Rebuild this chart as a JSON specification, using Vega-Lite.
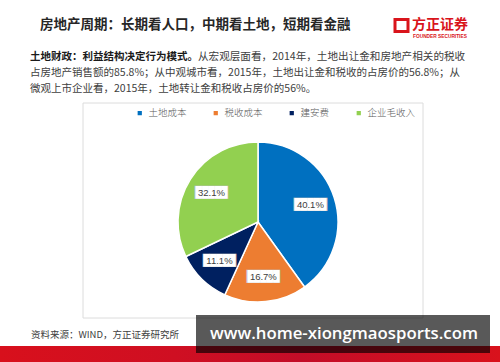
{
  "$schema": "https://vega.github.io/schema/vega-lite/v6.json",
  "width": 500,
  "height": 362,
  "autosize": "none",
  "padding": 0,
  "background": "white",
  "config": {"view": {"stroke": null}, "font": "Noto Sans CJK SC"},
  "datasets": {
    "pie": [
      {"cat": "土地成本", "share": 0.401, "rank": 1},
      {"cat": "税收成本", "share": 0.167, "rank": 2},
      {"cat": "建安费", "share": 0.111, "rank": 3},
      {"cat": "企业毛收入", "share": 0.321, "rank": 4}
    ]
  },
  "data": {"values": [{}]},
  "layer": [
    {"mark": {"type": "rect", "x": 83, "y": 103, "x2": 423, "y2": 318, "fill": "white", "stroke": "#dcdcdc", "strokeWidth": 1}, "encoding": {}},
    {
      "data": {"name": "pie"},
      "mark": {"type": "arc", "x": 258, "y": 222, "outerRadius": 80, "stroke": "white", "strokeWidth": 1.5},
      "encoding": {
        "theta": {"field": "share", "type": "quantitative", "stack": true},
        "order": {"field": "rank", "type": "quantitative"},
        "color": {
          "field": "cat", "type": "nominal",
          "scale": {"domain": ["土地成本", "税收成本", "建安费", "企业毛收入"], "range": ["#0070C0", "#ED7D31", "#002060", "#92D050"]},
          "legend": {
            "orient": "none", "legendX": 135, "legendY": 108, "direction": "horizontal", "title": null,
            "symbolType": "square", "symbolSize": 18, "symbolStrokeWidth": 0,
            "labelFontSize": 9.5, "labelColor": "#595959", "labelFont": "Noto Sans CJK SC", "labelFontWeight": 300,
            "columnPadding": 24, "labelOffset": 4, "padding": 0
          }
        }
      }
    },
    {
      "data": {"name": "pie"},
      "mark": {"type": "text", "x": 258, "y": 222, "radius": 55, "text": "█████", "font": "DejaVu Sans Mono", "fontSize": 11.2, "color": "#bfbfbf", "baseline": "middle", "align": "center"},
      "encoding": {
        "theta": {"field": "share", "type": "quantitative", "stack": true},
        "order": {"field": "rank", "type": "quantitative"}
      }
    },
    {
      "data": {"name": "pie"},
      "mark": {"type": "text", "x": 258, "y": 222, "radius": 55, "text": "█████", "font": "DejaVu Sans Mono", "fontSize": 10.6, "color": "white", "baseline": "middle", "align": "center"},
      "encoding": {
        "theta": {"field": "share", "type": "quantitative", "stack": true},
        "order": {"field": "rank", "type": "quantitative"}
      }
    },
    {
      "data": {"name": "pie"},
      "mark": {"type": "text", "x": 258, "y": 222, "radius": 55, "font": "Liberation Sans", "fontSize": 9.5, "color": "#404040", "baseline": "middle", "align": "center"},
      "encoding": {
        "theta": {"field": "share", "type": "quantitative", "stack": true},
        "order": {"field": "rank", "type": "quantitative"},
        "text": {"field": "share", "type": "quantitative", "format": ".1%"}
      }
    },
    {"mark": {"type": "text", "x": 40, "y": 25, "text": "房地产周期：长期看人口，中期看土地，短期看金融", "fontSize": 13.5, "fontWeight": "bold", "color": "#262626", "align": "left", "baseline": "middle"}, "encoding": {}},
    {"mark": {"type": "rect", "x": 395, "y": 19.5, "x2": 408, "y2": 31.5, "fill": null, "stroke": "#d9141b", "strokeWidth": 3}, "encoding": {}},
    {"mark": {"type": "text", "x": 412, "y": 25, "text": "方正证券", "fontSize": 14, "fontWeight": "bold", "color": "#d9141b", "align": "left", "baseline": "middle"}, "encoding": {}},
    {"mark": {"type": "text", "x": 413, "y": 37, "text": "FOUNDER SECURITIES", "font": "Liberation Sans", "fontSize": 4.8, "fontWeight": "bold", "color": "#d9141b", "align": "left", "baseline": "middle"}, "encoding": {}},
    {"mark": {"type": "text", "x": 30, "y": 57, "text": "土地财政：利益结构决定行为模式。", "fontSize": 10.5, "fontWeight": "bold", "color": "#1a1a1a", "align": "left", "baseline": "middle"}, "encoding": {}},
    {"mark": {"type": "text", "x": 198, "y": 57, "text": "从宏观层面看，2014年，土地出让金和房地产相关的税收", "fontSize": 10.6, "color": "#404040", "align": "left", "baseline": "middle"}, "encoding": {}},
    {"mark": {"type": "text", "x": 30, "y": 73, "text": "占房地产销售额的85.8%；从中观城市看，2015年，土地出让金和税收的占房价的56.8%；从", "fontSize": 10.5, "color": "#404040", "align": "left", "baseline": "middle"}, "encoding": {}},
    {"mark": {"type": "text", "x": 30, "y": 89, "text": "微观上市企业看，2015年，土地转让金和税收占房价的56%。", "fontSize": 10.5, "color": "#404040", "align": "left", "baseline": "middle"}, "encoding": {}},
    {"mark": {"type": "text", "x": 31, "y": 335, "text": "资料来源：WIND，方正证券研究所", "fontSize": 9.5, "color": "#404040", "align": "left", "baseline": "middle"}, "encoding": {}},
    {"mark": {"type": "rect", "x": 0, "y": 346, "x2": 500, "y2": 362, "fill": {"gradient": "linear", "x1": 0, "y1": 0, "x2": 1, "y2": 0, "stops": [{"offset": 0, "color": "#d8101c"}, {"offset": 0.35, "color": "#cf0f22"}, {"offset": 0.6, "color": "#c30d28"}, {"offset": 1, "color": "#d9121c"}]}}, "encoding": {}},
    {"mark": {"type": "rect", "x": 196, "y": 315, "x2": 490, "y2": 353, "fill": "black", "opacity": 0.65}, "encoding": {}},
    {"mark": {"type": "text", "x": 344, "y": 334, "text": "www.home-xiongmaosports.com", "font": "Open Sans", "fontSize": 16.8, "fontWeight": 600, "color": "white", "align": "center", "baseline": "middle"}, "encoding": {}}
  ]
}
